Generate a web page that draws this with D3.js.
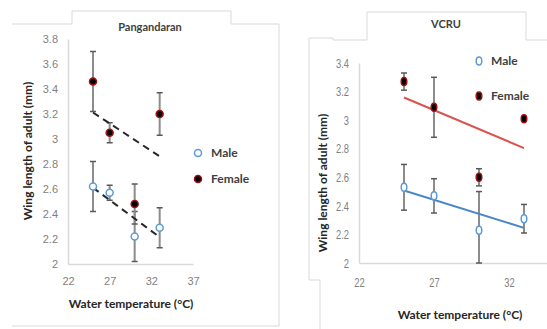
<!DOCTYPE html>
<html>
  <head>
    <meta charset="utf-8" />
    <style>
      body {
        margin: 0;
        background: #fff;
      }
      svg {
        display: block;
        font-family: Lato, "Liberation Sans", Arial, sans-serif;
      }
      .tick text {
        fill: #7f7f7f;
        font-size: 11px;
      }
      .axis-title {
        font-size: 12px;
        font-weight: bold;
        fill: #262626;
      }
      .chart-title {
        font-size: 11px;
        font-weight: bold;
        fill: #404040;
      }
      .legend-label {
        font-size: 12px;
        font-weight: bold;
        fill: #404040;
      }
      .frame {
        fill: none;
        stroke: #d9d9d9;
        stroke-width: 1;
      }
    </style>
  </head>
  <body>
    <script src="https://d3js.org/d3.v7.min.js"></script>
    <script>
      // water temperature (x) for every panel
      const temps = [25, 27, 30, 33];

      // Pangandaran
      const pangFemale = [3.46, 3.05, 2.48, 3.2];
      const pangFemaleErr = [0.24, 0.08, 0.16, 0.17];
      const pangMale = [2.62, 2.57, 2.22, 2.29];
      const pangMaleErr = [0.2, 0.06, 0.2, 0.16];
      const pangYTicks = [2, 2.2, 2.4, 2.6, 2.8, 3, 3.2, 3.4, 3.6, 3.8];
      const pangXTicks = [22, 27, 32, 37];

      // VCRU
      const vcruFemale = [3.27, 3.09, 2.6, 3.01];
      const vcruFemaleErr = [0.06, 0.21, 0.06, 0];
      const vcruMale = [2.53, 2.47, 2.23, 2.31];
      const vcruMaleErr = [0.16, 0.12, 0.27, 0.1];
      const vcruYTicks = [2, 2.2, 2.4, 2.6, 2.8, 3, 3.2, 3.4];
      const vcruXTicks = [22, 27, 32];

      const seriesNames = ["Male", "Female"];

      const svg = d3
        .select("body")
        .append("svg")
        .attr("width", 547)
        .attr("height", 329);

      // least squares line, like the Excel trendline
      function fit(xs, ys) {
        const mx = d3.mean(xs),
          my = d3.mean(ys);
        const sxy = d3.sum(xs, (x, i) => (x - mx) * (ys[i] - my));
        const sxx = d3.sum(xs, (x) => (x - mx) * (x - mx));
        const b = sxy / sxx;
        return (x) => my + b * (x - mx);
      }

      // frames left over from the pasted screenshots
      const frames = [
        "M12,24H72V11H231V24H279V326H12",
        "M309,280V38H333V40H367V12H526V40H547",
        "M320,329V280H309",
      ];
      svg
        .selectAll("path.frame")
        .data(frames)
        .join("path")
        .attr("class", "frame")
        .attr("d", (d) => d);

      function panel(opt) {
        const g = svg.append("g");
        const x = d3.scaleLinear().domain([22, 37]).range(opt.xRange);
        const y = d3.scaleLinear().domain(opt.yDomain).range(opt.yRange);

        const yAxis = g
          .append("g")
          .attr("transform", `translate(${opt.xRange[0]},0)`)
          .call(
            d3
              .axisLeft(y)
              .tickValues(opt.yTicks)
              .tickSize(0)
              .tickPadding(opt.yPad)
              .tickFormat(d3.format("~g"))
          );
        yAxis.select(".domain").attr("stroke", "#d9d9d9").attr("stroke-width", 1.5);

        const xAxis = g
          .append("g")
          .attr("transform", `translate(0,${opt.yRange[0]})`)
          .call(
            d3.axisBottom(x).tickValues(opt.xTicks).tickSize(0).tickPadding(opt.xPad)
          );
        xAxis.select(".domain").attr("stroke", "#d9d9d9").attr("stroke-width", 1.5);

        // the VCRU labels are squeezed sideways in the picture
        if (opt.squeeze) {
          g.selectAll(".tick text")
            .style("font-size", "13px")
            .attr("x", function () {
              return +d3.select(this).attr("x") / opt.squeeze;
            })
            .attr("transform", `scale(${opt.squeeze},1)`);
        }

        // error bars
        const err = g.append("g");
        opt.series.forEach((s) => {
          temps.forEach((t, i) => {
            if (!s.err[i]) return;
            const cx = x(t),
              y1 = y(s.values[i] + s.err[i]),
              y0 = Math.min(y(s.values[i] - s.err[i]), opt.yRange[0]);
            err
              .append("line")
              .attr("x1", cx)
              .attr("x2", cx)
              .attr("y1", y1)
              .attr("y2", y0)
              .attr("stroke", "#8c8c8c")
              .attr("stroke-width", 2);
            [y1, y0].forEach((yy) => {
              err
                .append("line")
                .attr("x1", cx - 3)
                .attr("x2", cx + 3)
                .attr("y1", yy)
                .attr("y2", yy)
                .attr("stroke", "#595959")
                .attr("stroke-width", 1.5);
            });
          });
        });

        // trendlines
        opt.series.forEach((s) => {
          const f = fit(temps, s.values);
          const x0 = temps[0],
            x1 = temps[temps.length - 1];
          g.append("line")
            .attr("x1", x(x0))
            .attr("y1", y(f(x0)))
            .attr("x2", x(x1))
            .attr("y2", y(f(x1)))
            .attr("stroke", s.trend)
            .attr("stroke-width", 2)
            .attr("stroke-dasharray", s.dash || null);
        });

        // markers
        function marker(sel, s) {
          sel
            .attr("rx", opt.rx)
            .attr("ry", opt.ry)
            .attr("fill", s.fill)
            .attr("stroke", s.stroke)
            .attr("stroke-width", 1.5);
        }
        opt.series.forEach((s) => {
          g.append("g")
            .selectAll("ellipse")
            .data(s.values)
            .join("ellipse")
            .attr("cx", (d, i) => x(temps[i]))
            .attr("cy", (d) => y(d))
            .call(marker, s);
        });

        // titles
        g.append("text")
          .attr("class", "chart-title")
          .attr("x", opt.title[1])
          .attr("y", opt.title[2])
          .attr("text-anchor", "middle")
          .text(opt.title[0]);
        g.append("text")
          .attr("class", "axis-title")
          .attr("transform", `translate(${opt.yTitle[0]},${opt.yTitle[1]}) rotate(-90)`)
          .attr("text-anchor", "middle")
          .attr("dy", "0.35em")
          .text("Wing length of adult (mm)");
        g.append("text")
          .attr("class", "axis-title")
          .attr("x", opt.xTitle[0])
          .attr("y", opt.xTitle[1])
          .attr("text-anchor", "middle")
          .attr("dy", "0.35em")
          .text("Water temperature (\u00b0C)");

        // legend
        opt.series.forEach((s, i) => {
          const ly = opt.legend[1] + i * opt.legend[2];
          g.append("ellipse")
            .attr("cx", opt.legend[0])
            .attr("cy", ly)
            .call(marker, s);
          g.append("text")
            .attr("class", "legend-label")
            .attr("x", opt.legend[0] + opt.legend[3])
            .attr("y", ly)
            .attr("dy", "0.35em")
            .text(s.name);
        });
      }

      panel({
        xRange: [68, 193],
        yDomain: [2, 3.8],
        yRange: [264, 39],
        yTicks: pangYTicks,
        xTicks: pangXTicks,
        yPad: 10,
        xPad: 13,
        rx: 3.5,
        ry: 3.5,
        title: ["Pangandaran", 150, 31],
        yTitle: [28, 151],
        xTitle: [131, 304],
        legend: [198, 153, 26, 13],
        series: [
          {
            name: seriesNames[0],
            values: pangMale,
            err: pangMaleErr,
            fill: "#fff",
            stroke: "#5b9bd5",
            trend: "#262626",
            dash: "7,5",
          },
          {
            name: seriesNames[1],
            values: pangFemale,
            err: pangFemaleErr,
            fill: "#000",
            stroke: "#a01010",
            trend: "#262626",
            dash: "7,5",
          },
        ],
      });

      panel({
        xRange: [359, 584],
        yDomain: [2, 3.4],
        yRange: [263, 63],
        yTicks: vcruYTicks,
        xTicks: vcruXTicks,
        yPad: 10,
        xPad: 15,
        squeeze: 0.72,
        rx: 2.8,
        ry: 4,
        title: ["VCRU", 446, 28],
        yTitle: [323, 183],
        xTitle: [460, 315],
        legend: [479, 61, 35, 12],
        series: [
          {
            name: seriesNames[0],
            values: vcruMale,
            err: vcruMaleErr,
            fill: "#fff",
            stroke: "#5b9bd5",
            trend: "#4a86c8",
          },
          {
            name: seriesNames[1],
            values: vcruFemale,
            err: vcruFemaleErr,
            fill: "#000",
            stroke: "#a01010",
            trend: "#d9534f",
          },
        ],
      });
    </script>
  </body>
</html>
